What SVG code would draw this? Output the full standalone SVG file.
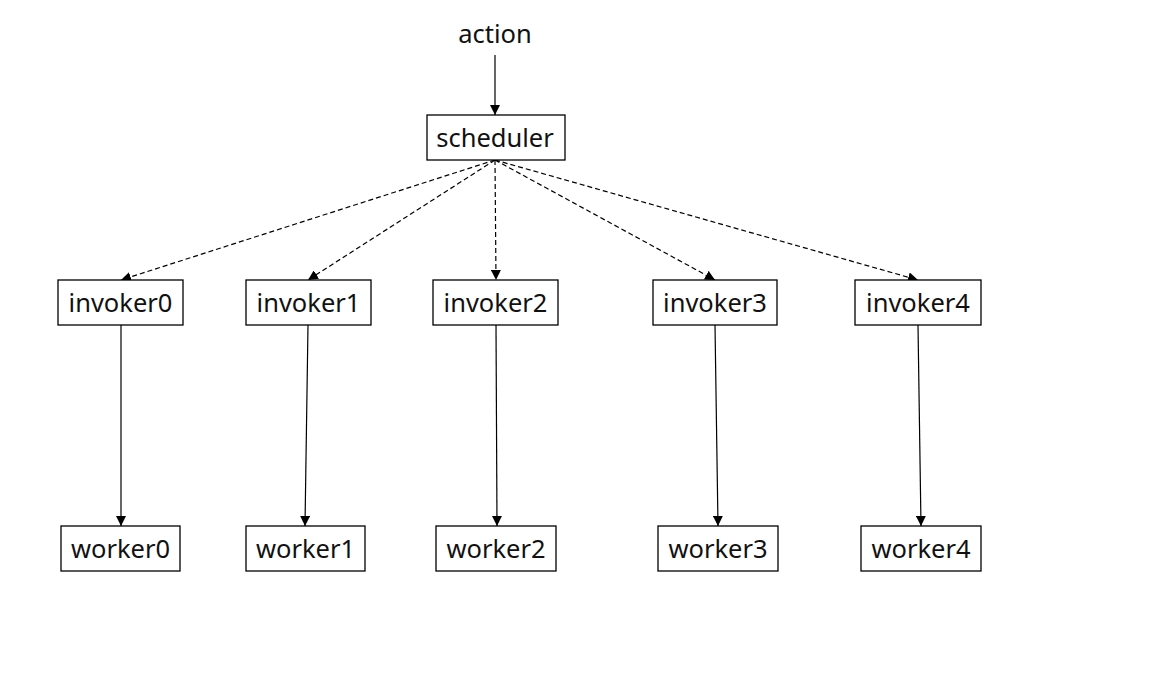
<svg xmlns="http://www.w3.org/2000/svg" width="1156" height="693" viewBox="0 0 1156 693">
<style>
rect.box{fill:#fff;stroke:#000;stroke-width:1.3}
text{font-family:"Noto Sans","Liberation Sans",sans-serif;font-size:25.5px;fill:#111;text-anchor:middle;dominant-baseline:central}
.solid{stroke:#000;stroke-width:1.2;fill:none}
.dash{stroke:#000;stroke-width:1.2;fill:none;stroke-dasharray:5 3}
</style>
<defs>
<marker id="ah" viewBox="0 0 10 10" refX="10" refY="5" markerWidth="10" markerHeight="10" markerUnits="userSpaceOnUse" orient="auto">
<path d="M0,0 L10,5 L0,10 z" fill="#000"/>
</marker>
</defs>
<rect width="1156" height="693" fill="#fff"/>
<g id="connectors">
<line class="solid" x1="495" y1="55" x2="495" y2="115" marker-end="url(#ah)"/>
<line class="dash" x1="495" y1="160" x2="121" y2="280" marker-end="url(#ah)"/>
<line class="dash" x1="495" y1="160" x2="308" y2="280" marker-end="url(#ah)"/>
<line class="dash" x1="495" y1="160" x2="496" y2="280" marker-end="url(#ah)"/>
<line class="dash" x1="495" y1="160" x2="715" y2="280" marker-end="url(#ah)"/>
<line class="dash" x1="495" y1="160" x2="918" y2="280" marker-end="url(#ah)"/>
<line class="solid" x1="121" y1="325" x2="121" y2="526" marker-end="url(#ah)"/>
<line class="solid" x1="308" y1="325" x2="305" y2="526" marker-end="url(#ah)"/>
<line class="solid" x1="496" y1="325" x2="497" y2="526" marker-end="url(#ah)"/>
<line class="solid" x1="715" y1="325" x2="718" y2="526" marker-end="url(#ah)"/>
<line class="solid" x1="918" y1="325" x2="921" y2="526" marker-end="url(#ah)"/>
</g>
<g id="action"><text x="495" y="33">action</text></g>
<g id="scheduler"><rect class="box" x="427" y="115" width="138" height="45"/><text x="495" y="137">scheduler</text></g>
<g id="invoker0"><rect class="box" x="58" y="280" width="125" height="45"/><text x="120.5" y="302">invoker0</text></g>
<g id="invoker1"><rect class="box" x="246" y="280" width="125" height="45"/><text x="308.5" y="302">invoker1</text></g>
<g id="invoker2"><rect class="box" x="433" y="280" width="125" height="45"/><text x="495.5" y="302">invoker2</text></g>
<g id="invoker3"><rect class="box" x="653" y="280" width="124" height="45"/><text x="715" y="302">invoker3</text></g>
<g id="invoker4"><rect class="box" x="855" y="280" width="126" height="45"/><text x="918" y="302">invoker4</text></g>
<g id="worker0"><rect class="box" x="61" y="526" width="119" height="45"/><text x="120.5" y="548">worker0</text></g>
<g id="worker1"><rect class="box" x="246" y="526" width="119" height="45"/><text x="305.5" y="548">worker1</text></g>
<g id="worker2"><rect class="box" x="436" y="526" width="120" height="45"/><text x="496" y="548">worker2</text></g>
<g id="worker3"><rect class="box" x="658" y="526" width="120" height="45"/><text x="718" y="548">worker3</text></g>
<g id="worker4"><rect class="box" x="861" y="526" width="120" height="45"/><text x="921" y="548">worker4</text></g>
</svg>
